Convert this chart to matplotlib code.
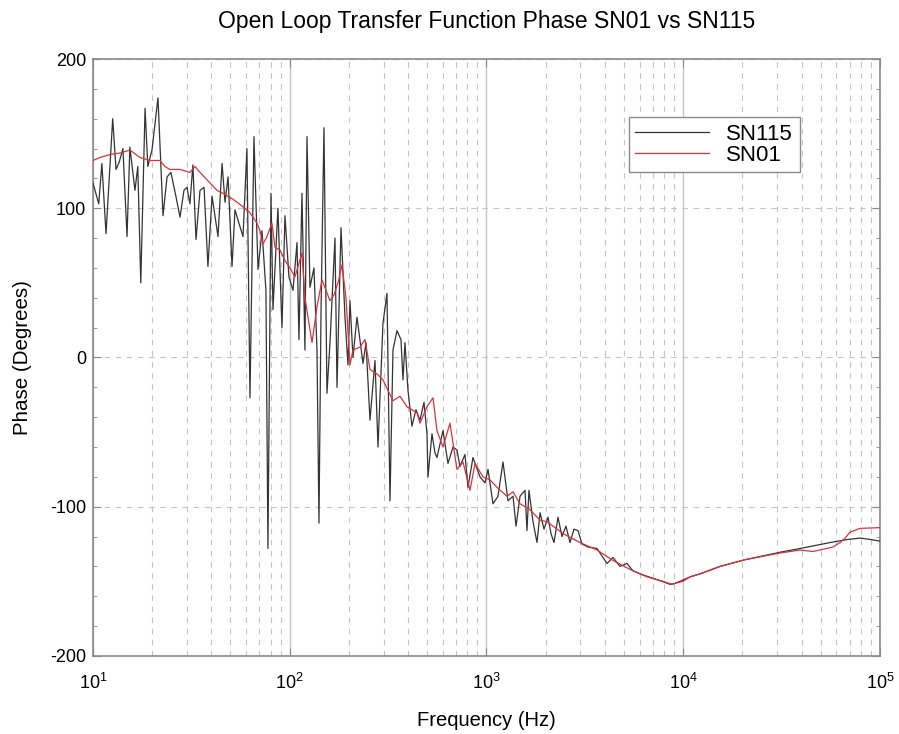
import matplotlib
matplotlib.use("Agg")
import matplotlib.pyplot as plt
import numpy as np
from matplotlib.ticker import LogLocator, MultipleLocator, FixedLocator

plt.rcParams['font.family'] = ['Liberation Sans', 'DejaVu Sans']
plt.rcParams['axes.unicode_minus'] = False

title = "Open Loop Transfer Function Phase SN01 vs SN115"
xlabel = "Frequency (Hz)"
ylabel = "Phase (Degrees)"

sn115_freq = [10.0, 10.7, 11.1, 11.65, 12.6, 13.1, 13.6, 14.2, 14.9, 15.4, 16.35, 16.9, 17.5, 18.4, 19.0,
              19.95, 21.4, 22.7, 23.8, 24.9, 26.4, 27.7, 29.0, 30.05, 31.1, 32.2, 33.4, 35.0, 36.7, 38.4,
              40.3, 43.2, 45.3, 46.9, 48.6, 50.9, 52.7, 54.6, 57.9, 60.6, 62.8, 65.8, 69.0, 72.3, 75.7,
              77.5, 80.3, 82.2, 87.1, 91.3, 94.6, 99.1, 103.9, 108.9, 111.4, 115.4, 119.5, 122.4, 126.7,
              132.8, 137.6, 140.8, 144.2, 149.3, 154.6, 160.2, 169.8, 173.9, 182.2, 190.9, 197.7, 202.4,
              209.6, 219.7, 235.7, 244.1, 255.8, 271.2, 280.9, 297.8, 312.1, 323.2, 334.8, 350.8, 367.6,
              376.3, 385.3, 399.0, 418.1, 438.1, 459.2, 481.2, 498.3, 504.2, 528.4, 547.2, 560.2, 600.9,
              637.2, 675.6, 707.9, 733.2, 777.4, 805.2, 853.7, 926.8, 982.7, 1018, 1079, 1144, 1213, 1286,
              1364, 1413, 1480, 1570, 1606, 1644, 1723, 1806, 1871, 1960, 2054, 2127, 2203, 2309, 2419,
              2535, 2657, 2784, 2918, 3058, 3281, 3645, 3910, 4098, 4395, 4770, 5177, 5553, 6029, 7021,
              7798, 8564, 9000, 9627, 10823, 12166, 15375, 20596, 31020, 39220, 55700, 67970, 79150,
              90000, 100000]
sn115_phase = [117, 103, 130, 83, 160, 126, 131, 140, 81, 141, 112, 128, 50, 167, 128,
               139, 174, 95, 121, 124, 108, 94, 112, 114, 103, 129, 79, 112, 114, 61,
               108, 81, 130, 104, 121, 61, 99, 92, 81, 140, -27, 148, 59, 85, 45,
               -128, 110, 32, 100, 20, 95, 54, 45, 77, 12, 110, 5, 148, 47,
               60, 5, -111, 30, 154, -24, 10, 80, -20, 87, 27, -5, 38,
               0, 27, -4, 10, -42, -2, -60, 23, 43, -96, 5, 18, 12,
               -15, 10, -22, -46, -35, -42, -30, -51, -80, -51, -64, -67, -49,
               -71, -60, -62, -73, -65, -87, -67, -80, -84, -75, -98, -93, -70, -96,
               -93, -113, -93, -89, -116, -89, -110, -124, -104, -115, -107, -118, -124, -107, -120,
               -113, -124, -115, -116, -125, -127, -128, -134, -138, -134, -140, -138, -143, -145, -148,
               -150, -152, -151.5, -150, -147, -145, -140, -135.5, -130.5, -128, -124, -122, -121,
               -122, -123]

sn01_freq = [10.0, 10.85, 12.2, 13.72, 15.42, 17.34, 19.49, 21.9, 23.2, 24.6, 27.7, 31.1, 33.0, 35.0,
             39.3, 42.7, 45.8, 51.5, 57.9, 62.8, 68.2, 70.6, 73.1, 76.6, 81.2, 84.1, 89.2, 94.6, 100.3,
             106.3, 115.4, 119.5, 129.8, 137.6, 145.9, 152.9, 160.2, 167.9, 175.9, 184.3, 193.2, 202.4,
             209.6, 227.6, 241.3, 255.8, 277.6, 297.8, 334.8, 363.4, 394.4, 443.4, 459.2, 498.3, 534.6,
             560.2, 600.9, 652.3, 707.9, 759.5, 824.5, 874.2, 959.8, 1042, 1131, 1271, 1364, 1480, 1664,
             1871, 2030, 2448, 2987, 3645, 4395, 5363, 6544, 7891, 8767, 9000, 9970, 10823, 12166, 15375,
             20596, 31020, 39220, 45640, 57690, 62620, 66500, 70400, 79150, 100000]
sn01_phase = [132, 134, 136, 137, 139, 134, 132, 132, 128, 126, 126, 124, 128, 124,
              117, 112, 110, 106, 101, 97, 90, 85, 76, 81, 90, 74, 72, 65, 60,
              54, 70, 40, 10, 34, 52, 45, 38, 42, 50, 62, 40, -5,
              5, 7, 12, -8, -11, -15, -29, -26, -33, -37, -44, -33, -27,
              -49, -60, -44, -75, -70, -89, -71, -80, -82, -87, -93, -90, -98, -102,
              -109, -110, -118, -124, -129, -136, -142, -147, -150, -152, -151.5, -150, -147, -145, -140,
              -135.5, -131, -129, -130, -127, -124, -121, -117, -114.5, -114]

x_min, x_max = 10, 1e5
y_min, y_max = -200, 200
y_major = [-200, -100, 0, 100, 200]

fig = plt.figure(figsize=(8.99, 7.34), dpi=100)
ax = fig.add_axes([0.1034, 0.1063, 0.8755, 0.8133])

ax.plot(sn115_freq, sn115_phase, color='#333333', lw=0.9, label='SN115', zorder=3)
ax.plot(sn01_freq, sn01_phase, color='#d8343a', lw=0.9, label='SN01', zorder=4)

ax.set_xscale('log')
ax.set_xlim(x_min, x_max)
ax.set_ylim(y_min, y_max)
ax.yaxis.set_major_locator(FixedLocator(y_major))
ax.yaxis.set_minor_locator(MultipleLocator(20))
ax.xaxis.set_major_locator(LogLocator(base=10, numticks=10))
ax.xaxis.set_minor_locator(LogLocator(base=10, subs=np.arange(2, 10), numticks=100))

ax.grid(True, which='major', axis='x', color='#c4c4c4', linestyle='-', linewidth=1.0)
ax.grid(True, which='minor', axis='x', color='#c4c4c4', linestyle=(0, (5, 5)), linewidth=0.8)
ax.grid(True, which='major', axis='y', color='#c4c4c4', linestyle=(0, (5, 5)), linewidth=0.8)
ax.set_axisbelow(True)

for s in ax.spines.values():
    s.set_color('#8a8a8a')
    s.set_linewidth(1.2)

ax.tick_params(which='both', direction='in', top=True, right=True, color='#8a8a8a')
ax.tick_params(which='major', length=6, labelsize=13)
ax.tick_params(axis='x', which='major', pad=12)
ax.tick_params(axis='y', which='major', pad=5)
ax.tick_params(which='minor', length=3)
ax.tick_params(axis='x', which='minor', length=0)

ax.set_title(title, fontsize=16.5, pad=22)
ax.set_xlabel(xlabel, fontsize=14.5, labelpad=13)
ax.set_ylabel(ylabel, fontsize=14.8, labelpad=13)

leg = ax.legend(loc='upper right', bbox_to_anchor=(0.898, 0.903), fontsize=16, frameon=True,
                fancybox=False, edgecolor='#8a8a8a', framealpha=1, handlelength=3.3,
                labelspacing=0.0, borderpad=0.3, borderaxespad=0, handletextpad=0.8)
leg.get_frame().set_linewidth(1.0)

fig.savefig('out.png', dpi=100, facecolor='white')
